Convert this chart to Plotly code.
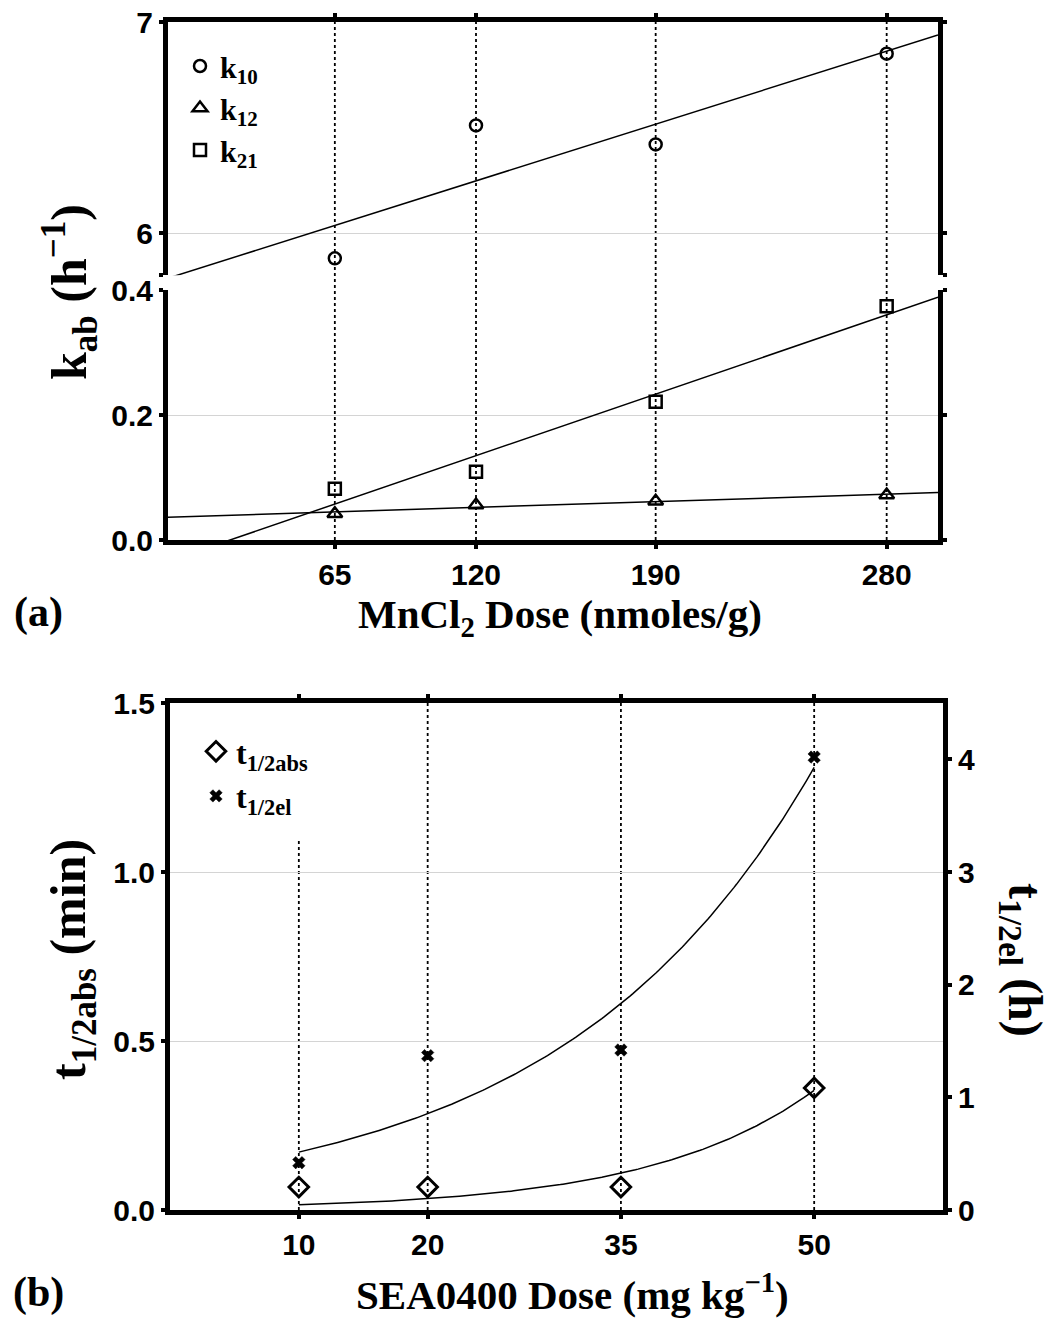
import numpy as np
import plotly.graph_objects as go

# ---------------- data: panel (a) ----------------
mn_dose = [65, 120, 190, 280]
k10 = [5.88, 6.51, 6.42, 6.85]
k12 = [0.042, 0.056, 0.062, 0.072]
k21 = [0.082, 0.109, 0.221, 0.374]
mn_ticks = [65, 120, 190, 280]

# ---------------- data: panel (b) ----------------
sea_dose = [10, 20, 35, 50]
t_abs = [0.068, 0.068, 0.068, 0.361]   # min (left axis)
t_el = [0.42, 1.37, 1.42, 4.02]        # h (right axis)
sea_ticks = [10, 20, 35, 50]

W, H = 1056, 1322


def px_x(p):
    return p / W


def px_y(p):
    return 1 - p / H


# linear fits (panel a)
def linfit(x, y):
    s, b = np.polyfit(np.array(x, float), np.array(y, float), 1)
    xs = np.linspace(0, 300, 301)
    return xs, s * xs + b


# exponential least-squares fits (panel b)
def expfit(x, y):
    x = np.array(x, float)
    y = np.array(y, float)
    best = None
    for b in np.linspace(0.001, 0.3, 3000):
        e = np.exp(b * x)
        a = (y * e).sum() / (e * e).sum()
        ss = ((y - a * e) ** 2).sum()
        if best is None or ss < best[0]:
            best = (ss, a, b)
    xs = np.linspace(min(x), max(x), 200)
    return xs, best[1] * np.exp(best[2] * xs)


fig = go.Figure()

mk_line = dict(color="black", width=2.5)

# --- panel (a) upper segment (k10) ---
fx, fy = linfit(mn_dose, k10)
fig.add_trace(go.Scatter(x=fx, y=fy, mode="lines", line=dict(color="black", width=1.5),
                         xaxis="x", yaxis="y", showlegend=False, hoverinfo="skip"))
fig.add_trace(go.Scatter(x=mn_dose, y=k10, mode="markers", name="k<sub>10</sub>",
                         marker=dict(symbol="circle-open", size=12, color="black", line=mk_line),
                         xaxis="x", yaxis="y", legend="legend"))

# --- panel (a) lower segment (k12, k21) ---
fx, fy = linfit(mn_dose, k12)
fig.add_trace(go.Scatter(x=fx, y=fy, mode="lines", line=dict(color="black", width=1.5),
                         xaxis="x2", yaxis="y2", showlegend=False, hoverinfo="skip"))
fx, fy = linfit(mn_dose, k21)
fig.add_trace(go.Scatter(x=fx, y=fy, mode="lines", line=dict(color="black", width=1.5),
                         xaxis="x2", yaxis="y2", showlegend=False, hoverinfo="skip"))
fig.add_trace(go.Scatter(x=mn_dose, y=k12, mode="markers", name="k<sub>12</sub>",
                         marker=dict(symbol="triangle-up-open", size=13, color="black", line=mk_line),
                         xaxis="x2", yaxis="y2", legend="legend"))
fig.add_trace(go.Scatter(x=mn_dose, y=k21, mode="markers", name="k<sub>21</sub>",
                         marker=dict(symbol="square-open", size=12, color="black", line=mk_line),
                         xaxis="x2", yaxis="y2", legend="legend"))

# --- panel (b) ---
fx, fy = expfit(sea_dose, t_abs)
fig.add_trace(go.Scatter(x=fx, y=fy, mode="lines", line=dict(color="black", width=1.5),
                         xaxis="x3", yaxis="y3", showlegend=False, hoverinfo="skip"))
fx, fy = expfit(sea_dose, t_el)
fig.add_trace(go.Scatter(x=fx, y=fy, mode="lines", line=dict(color="black", width=1.5),
                         xaxis="x3", yaxis="y4", showlegend=False, hoverinfo="skip"))
fig.add_trace(go.Scatter(x=sea_dose, y=t_abs, mode="markers", name="t<sub>1/2abs</sub>",
                         marker=dict(symbol="diamond-open", size=15, color="black", line=dict(color="black", width=3)),
                         xaxis="x3", yaxis="y3", legend="legend2"))
fig.add_trace(go.Scatter(x=sea_dose, y=t_el, mode="markers", name="t<sub>1/2el</sub>",
                         marker=dict(symbol="x", size=11, color="black", line=dict(color="black", width=0.5)),
                         xaxis="x3", yaxis="y4", legend="legend2"))

# ---------------- shapes: vertical dotted lines ----------------
shapes = []
ya_bot = px_y(540)
ya_top = px_y(22)
for v in mn_ticks:
    shapes.append(dict(type="line", xref="x2", yref="paper", x0=v, x1=v, y0=ya_bot, y1=ya_top,
                       line=dict(color="black", width=1.8, dash="dot"), layer="below"))
for v in sea_ticks:
    top = 1.1 if v == sea_ticks[0] else 1.5
    shapes.append(dict(type="line", xref="x3", yref="y3", x0=v, x1=v, y0=0, y1=top,
                       line=dict(color="black", width=1.8, dash="dot"), layer="below"))

tickfont = dict(family="Liberation Sans Narrow, Liberation Sans, Arial", size=30, color="black", weight="bold")
serif = "Liberation Serif, Times New Roman, serif"

common_axis = dict(showline=True, linecolor="black", linewidth=5, ticks="outside", ticklen=4,
                   tickwidth=4, tickcolor="black", tickfont=tickfont, zeroline=False, automargin=False)

xdom_a = [px_x(168), px_x(938)]
xdom_b = [px_x(170), px_x(943)]

fig.update_layout(
    width=W, height=H,
    margin=dict(l=0, r=0, t=0, b=0, pad=0, autoexpand=False),
    paper_bgcolor="white", plot_bgcolor="white",
    shapes=shapes,
    xaxis=dict(domain=xdom_a, range=[0, 300], anchor="y", side="top", tickvals=mn_ticks,
               showticklabels=False, showgrid=False, **common_axis),
    yaxis=dict(domain=[px_y(275.2), px_y(22)], range=[5.8, 7], anchor="x", tickvals=[5.8, 6, 7],
               ticktext=["", "6", "7"], mirror="ticks", showgrid=True, gridcolor="#d4d4d4", gridwidth=1,
               **common_axis),
    xaxis2=dict(domain=xdom_a, range=[0, 300], anchor="y2", tickvals=mn_ticks, showgrid=False,
                **common_axis),
    yaxis2=dict(domain=[px_y(540), px_y(290)], range=[0, 0.4], anchor="x2", tickvals=[0, 0.2, 0.4],
                ticktext=["0.0", "0.2", "0.4"], mirror="ticks", showgrid=True, gridcolor="#d4d4d4",
                gridwidth=1, **common_axis),
    xaxis3=dict(domain=xdom_b, range=[0, 60], anchor="y3", tickvals=sea_ticks, mirror="ticks",
                showgrid=False, **common_axis),
    yaxis3=dict(domain=[px_y(1210), px_y(703)], range=[0, 1.5], anchor="x3", tickvals=[0, 0.5, 1.0, 1.5],
                ticktext=["0.0", "0.5", "1.0", "1.5"], showgrid=True, gridcolor="#d4d4d4", gridwidth=1,
                **common_axis),
    yaxis4=dict(range=[0, 4.5], overlaying="y3", side="right", anchor="x3", tickvals=[0, 1, 2, 3, 4],
                showgrid=False, **common_axis),
    legend=dict(x=px_x(180), y=px_y(40), xanchor="left", yanchor="top", bgcolor="rgba(0,0,0,0)",
                font=dict(family=serif, size=30, color="black", weight="bold")),
    legend2=dict(x=px_x(196), y=px_y(724), xanchor="left", yanchor="top", bgcolor="rgba(0,0,0,0)",
                 font=dict(family=serif, size=32, color="black", weight="bold")),
)


def fnt(size):
    return dict(family=serif, size=size, color="black", weight="bold")


annotations = [
    dict(text="k<sub>ab</sub> (h<sup>−1</sup>)", x=px_x(70), y=px_y(292), textangle=-90, font=fnt(50)),
    dict(text="MnCl<sub>2</sub> Dose (nmoles/g)", x=px_x(560), y=px_y(617), font=fnt(41)),
    dict(text="(a)", x=px_x(38), y=px_y(612), font=fnt(42)),
    dict(text="t<sub>1/2abs</sub> (min)", x=px_x(72), y=px_y(960), textangle=-90, font=fnt(50)),
    dict(text="t<sub>1/2el</sub> (h)", x=px_x(1022), y=px_y(960), textangle=90, font=fnt(48)),
    dict(text="SEA0400 Dose (mg kg<sup>−1</sup>)", x=px_x(572), y=px_y(1292), font=fnt(41)),
    dict(text="(b)", x=px_x(38), y=px_y(1292), font=fnt(42)),
]
for a in annotations:
    a.update(xref="paper", yref="paper", showarrow=False, xanchor="center", yanchor="middle")
fig.update_layout(annotations=annotations)

fig.write_html("out.html")
